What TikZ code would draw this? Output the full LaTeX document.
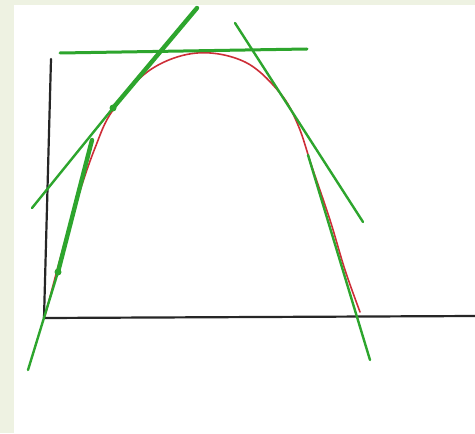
\documentclass[tikz,border=0pt]{standalone}
\usepackage{tikz}

\definecolor{penred}{RGB}{205,45,55}
\definecolor{pengreen}{RGB}{45,165,45}
\definecolor{pagetint}{RGB}{238,242,226}

\begin{document}
\begin{tikzpicture}[x=0.5pt,y=-0.5pt,line cap=round,line join=round,
    axis/.style={draw=black!85,line width=1.1pt},
    curve/.style={draw=penred,line width=0.8pt},
    tangent/.style={draw=pengreen,line width=1.2pt},
    heavy/.style={draw=pengreen,line width=2.2pt}]
    % page
    \fill[pagetint] (0,0) rectangle (475,433);
    \fill[white] (14,5) rectangle (475,433);
    \useasboundingbox (0,0) rectangle (475,433);
    % axes
    \coordinate (ytop) at (51,59);
    \coordinate (orig) at (44,318);
    \coordinate (xend) at (475,316);
    \draw[axis] (ytop) -- (orig) -- (xend);
    % the curve
    \draw[curve] plot[smooth,tension=0.6] coordinates {(45,316) (62,252) (77,200) (95,148) (113,110) (150,70) (197,53) (245,62) (280,93) (298,125) (312,167) (330,220) (345,270) (360,312)};
    % tangents
    \coordinate (topL) at (60,53);
    \coordinate (topR) at (307,49);
    \draw[tangent,line width=1.5pt] (topL) -- (topR);
    \coordinate (aLo) at (32,208);
    \coordinate (aMid) at (113,108);
    \coordinate (aHi) at (197,8);
    \draw[tangent] (aLo) -- (aMid);
    \draw[heavy] (aMid) -- (aHi);
    \fill[pengreen] (aMid) circle (3.5);
    \coordinate (bLo) at (28,370);
    \coordinate (bMid) at (58,272);
    \coordinate (bHi) at (92,140);
    \draw[tangent] (bLo) -- (bMid);
    \draw[heavy] (bMid) -- (bHi);
    \fill[pengreen] (bMid) circle (3.5);
    \coordinate (cHi) at (235,23);
    \coordinate (cLo) at (363,222);
    \draw[tangent] (cHi) -- (cLo);
    \coordinate (dHi) at (308,155);
    \coordinate (dLo) at (370,360);
    \draw[tangent] (dHi) -- (dLo);
\end{tikzpicture}
\end{document}
